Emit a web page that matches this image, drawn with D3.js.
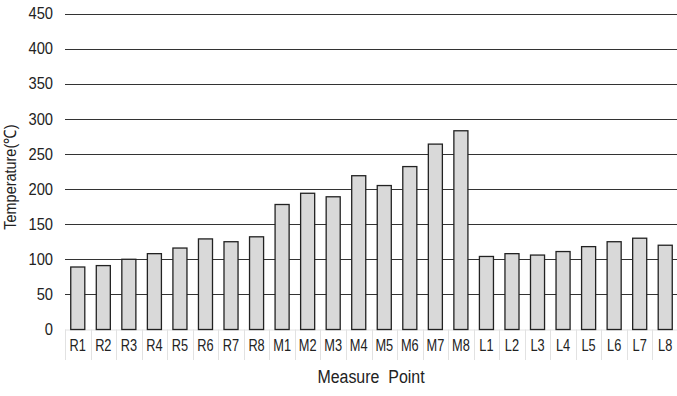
<!DOCTYPE html>
<html><head><meta charset="utf-8">
<script src="https://cdn.jsdelivr.net/npm/d3@7"></script>
<style>body{margin:0;background:#fff}svg{display:block}text{font-family:"Liberation Sans",Arial,sans-serif;fill:#222}</style>
</head><body><svg id="c" width="677" height="396"></svg>
<script>
const categories = ["R1","R2","R3","R4","R5","R6","R7","R8","M1","M2","M3","M4","M5","M6","M7","M8","L1","L2","L3","L4","L5","L6","L7","L8"];
const temperatures = [89,91,100,108,116,129,125,132,178,194,189,219,205,232,264,283,104,108,106,111,118,125,130,120];
const yTicks = [0,50,100,150,200,250,300,350,400,450];
const xTitle = "Measure  Point";
const yTitle = "Temperature(℃)";

(function(){
const svg = d3.select("#c");
const mL = 65, mR = 678, mT = 13.5, mB = 329.5;
const x = d3.scaleBand().domain(categories).range([mL, mR]).paddingInner(0.45).paddingOuter(0.225);
const xb = d3.scaleBand().domain(categories).range([mL, mR]);
const y = d3.scaleLinear().domain([0,450]).range([mB, mT]);

svg.append("g").selectAll("line").data(yTicks.filter(d=>d>0)).join("line")
  .attr("x1", mL).attr("x2", 677)
  .attr("y1", d=>Math.round(y(d))+0.5).attr("y2", d=>Math.round(y(d))+0.5)
  .attr("stroke","#333").attr("stroke-width",1.2);

svg.append("g").selectAll("text").data(yTicks).join("text")
  .attr("transform", d=>`translate(53,${y(d)}) scale(0.92,1)`).attr("dy","0.36em")
  .attr("text-anchor","end").style("font-size","16px").text(d=>d);

const cells = svg.append("g");
cells.selectAll("line").data(categories.concat(["_end"])).join("line")
  .attr("x1", (d,i)=> Math.round(mL + i*xb.bandwidth())+0.5)
  .attr("x2", (d,i)=> Math.round(mL + i*xb.bandwidth())+0.5)
  .attr("y1", mB).attr("y2", 360)
  .attr("stroke","#e2e2e2").attr("stroke-width",1);
cells.append("line").attr("x1",mL).attr("x2",677).attr("y1",mB+0.5).attr("y2",mB+0.5).attr("stroke","#e2e2e2");

svg.append("g").selectAll("rect").data(temperatures).join("rect")
  .attr("x",(d,i)=>x(categories[i]))
  .attr("width", x.bandwidth())
  .attr("y", d=>y(d))
  .attr("height", d=>mB - y(d))
  .attr("fill","#d9d9d9").attr("stroke","#222").attr("stroke-width",1.3);

svg.append("g").selectAll("text").data(categories).join("text")
  .attr("transform", d=>`translate(${xb(d)+xb.bandwidth()/2},351) scale(0.8,1)`)
  .attr("text-anchor","middle").style("font-size","16px").text(d=>d);

svg.append("text").attr("transform","translate(371,383) scale(0.84,1)").attr("text-anchor","middle")
  .style("font-size","19px").style("white-space","pre").text(xTitle);
svg.append("text").attr("transform","translate(16,177) rotate(-90) scale(0.85,1)").attr("text-anchor","middle")
  .style("font-size","17px").text(yTitle);
})();
</script></body></html>
